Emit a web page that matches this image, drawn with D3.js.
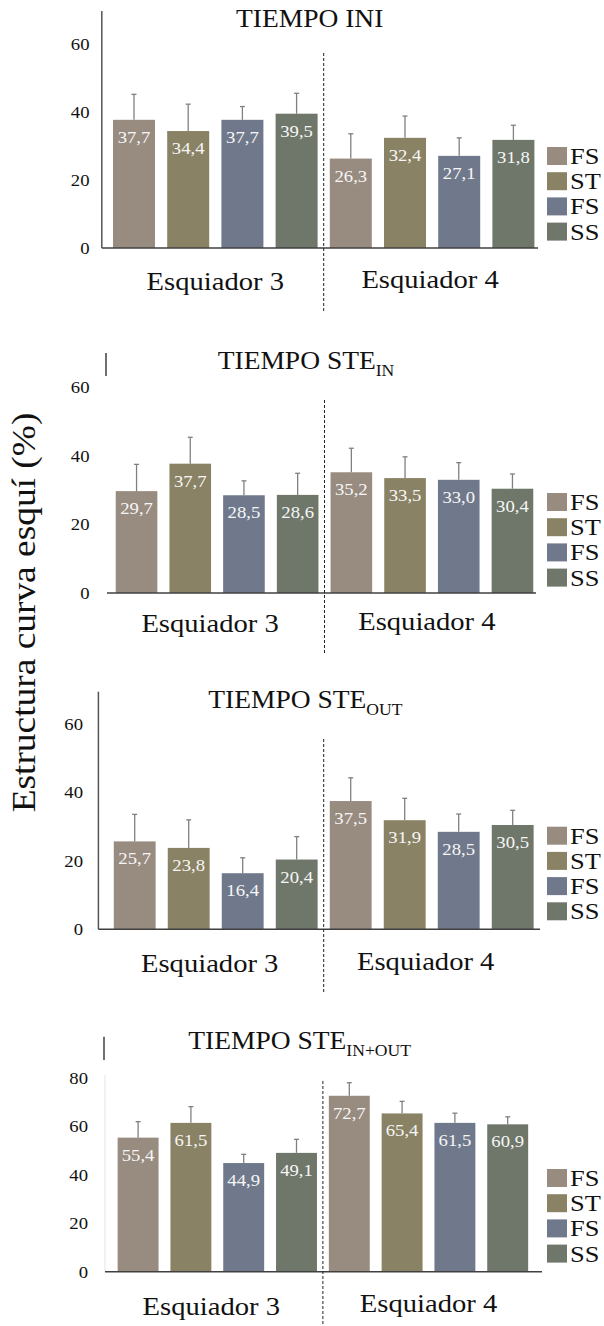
<!DOCTYPE html>
<html>
<head>
<meta charset="utf-8">
<script src="https://cdn.jsdelivr.net/npm/d3@7"></script>
<style>
  html, body { margin: 0; padding: 0; background: #fff; }
  svg { display: block; }
</style>
</head>
<body>
<svg id="chart" width="604" height="1326"></svg>
<script>
// ---- data ----
const groups = ["Esquiador 3", "Esquiador 4"];
const seriesIds = ["s1", "s2", "s3", "s4"];
const seriesLabels = ["FS", "ST", "FS", "SS"];
const yTicksShort = [0, 20, 40, 60];
const yTicksLong = [0, 20, 40, 60, 80];
const yAxisTitle = "Estructura curva esquí (%)";

const titleMain = ["TIEMPO INI", "TIEMPO STE", "TIEMPO STE", "TIEMPO STE"];
const titleSub = ["", "IN", "OUT", "IN+OUT"];

// mean (%) per skier and series, with the upper deviation
const iniValues = [[37.7, 34.4, 37.7, 39.5], [26.3, 32.4, 27.1, 31.8]];
const iniErrors = [[7.5, 7.9, 3.9, 6.0], [7.3, 6.4, 5.3, 4.3]];
const steInValues = [[29.7, 37.7, 28.5, 28.6], [35.2, 33.5, 33.0, 30.4]];
const steInErrors = [[7.8, 7.7, 4.2, 6.3], [7.0, 6.2, 5.0, 4.3]];
const steOutValues = [[25.7, 23.8, 16.4, 20.4], [37.5, 31.9, 28.5, 30.5]];
const steOutErrors = [[7.9, 8.2, 4.5, 6.7], [6.8, 6.4, 5.2, 4.3]];
const steInOutValues = [[55.4, 61.5, 44.9, 49.1], [72.7, 65.4, 61.5, 60.9]];
const steInOutErrors = [[6.6, 6.7, 3.6, 5.6], [5.4, 5.0, 4.0, 3.1]];

// ---- styling / layout ----
const FONT = "'Liberation Serif', 'Times New Roman', Times, serif";
const SX = 1.1; // slightly wide lettering
const color = d3.scaleOrdinal()
  .domain(seriesIds)
  .range(["#988b80", "#8a8264", "#70798b", "#6f766a"]);

const panels = [
  { values: iniValues, errors: iniErrors, ticks: yTicksShort, yMax: 70, base: 248, ppu: 3.40,
    xr: [106.9, 540.5], tickX: 89.5, axisLine: { x: 101.8, y1: 11, color: "#555" }, stub: null,
    baseX: [101.8, 538], dashY: [53, 312], titleX: 236, titleY: 26.7,
    groupY: [290, 288], groupDx: [0, -2], legendY: 147 },
  { values: steInValues, errors: steInErrors, ticks: yTicksShort, yMax: 70, base: 593, ppu: 3.43,
    xr: [109.7, 539.3], tickX: 89.5, axisLine: null, stub: { x: 106, y1: 353, y2: 376 },
    baseX: [107, 536], dashY: [400, 655], titleX: 217.7, titleY: 369.3,
    groupY: [631.7, 630], groupDx: [-7, -5], legendY: 493 },
  { values: steOutValues, errors: steOutErrors, ticks: yTicksShort, yMax: 70, base: 929.3, ppu: 3.42,
    xr: [107.7, 539.7], tickX: 83, axisLine: { x: 98.4, y1: 691.7, color: "#555" }, stub: null,
    baseX: [98.4, 540], dashY: [739, 992], titleX: 208.3, titleY: 708.3,
    groupY: [971.7, 970], groupDx: [-6, -6], legendY: 826.7 },
  { values: steInOutValues, errors: steInOutErrors, ticks: yTicksLong, yMax: 80, base: 1271.7, ppu: 2.42,
    xr: [111.7, 534.1], tickX: 88, axisLine: { x: 105, y1: 1075, color: "#eeeeee" }, stub: { x: 104, y1: 1036.7, y2: 1060 },
    baseX: [105, 542], dashY: [1081, 1326], titleX: 188.3, titleY: 1049.3,
    groupY: [1315, 1311.7], groupDx: [-6, 0], legendY: 1169 }
];

const fmt = v => d3.format(".1f")(v).replace(".", ",");
const svg = d3.select("#chart");

// shared y-axis title
svg.append("text")
  .attr("transform", `translate(35,612.5) rotate(-90) scale(${SX},1)`)
  .attr("text-anchor", "middle")
  .attr("font-family", FONT)
  .attr("font-size", 34)
  .attr("fill", "#111")
  .text(yAxisTitle);

panels.forEach((p, pi) => {
  const g = svg.append("g").attr("class", "panel");

  const y = d3.scaleLinear().domain([0, p.yMax]).range([p.base, p.base - p.yMax * p.ppu]);
  const x0 = d3.scaleBand().domain(groups).range(p.xr).paddingInner(0).paddingOuter(0);
  const x1 = d3.scaleBand().domain(seriesIds).range([0, x0.bandwidth()])
    .paddingInner(0.225).paddingOuter(0.1125);

  // y axis line / stub
  if (p.axisLine) {
    g.append("line")
      .attr("x1", p.axisLine.x).attr("x2", p.axisLine.x)
      .attr("y1", p.axisLine.y1).attr("y2", p.base)
      .attr("stroke", p.axisLine.color).attr("stroke-width", 1.5);
  }
  if (p.stub) {
    g.append("line")
      .attr("x1", p.stub.x).attr("x2", p.stub.x)
      .attr("y1", p.stub.y1).attr("y2", p.stub.y2)
      .attr("stroke", "#222").attr("stroke-width", 1.3);
  }

  // tick labels
  const axis = g.append("g")
    .attr("transform", `translate(${p.tickX},0)`)
    .call(d3.axisLeft(y).tickValues(p.ticks).tickSize(0).tickPadding(0).tickFormat(d3.format("d")));
  axis.select(".domain").remove();
  axis.selectAll("text")
    .attr("font-family", FONT)
    .attr("font-size", 17)
    .attr("fill", "#111")
    .attr("transform", `scale(${SX},1)`);

  // bars
  const rows = [];
  groups.forEach((grp, gi) => {
    seriesIds.forEach((s, si) => {
      rows.push({ grp, s, v: p.values[gi][si], e: p.errors[gi][si] });
    });
  });

  g.selectAll("rect.bar").data(rows).join("rect")
    .attr("class", "bar")
    .attr("x", d => x0(d.grp) + x1(d.s))
    .attr("width", x1.bandwidth())
    .attr("y", d => y(d.v))
    .attr("height", d => y(0) - y(d.v))
    .attr("fill", d => color(d.s));

  // upper error bars
  const eb = g.selectAll("g.err").data(rows).join("g").attr("class", "err")
    .attr("stroke", "#808080").attr("stroke-width", 1.3);
  eb.append("line")
    .attr("x1", d => x0(d.grp) + x1(d.s) + x1.bandwidth() / 2)
    .attr("x2", d => x0(d.grp) + x1(d.s) + x1.bandwidth() / 2)
    .attr("y1", d => y(d.v))
    .attr("y2", d => y(d.v + d.e));
  eb.append("line")
    .attr("x1", d => x0(d.grp) + x1(d.s) + x1.bandwidth() / 2 - 2.5)
    .attr("x2", d => x0(d.grp) + x1(d.s) + x1.bandwidth() / 2 + 2.5)
    .attr("y1", d => y(d.v + d.e))
    .attr("y2", d => y(d.v + d.e));

  // value labels inside the bars
  g.selectAll("text.val").data(rows).join("text")
    .attr("class", "val")
    .attr("transform", d => `translate(${x0(d.grp) + x1(d.s) + x1.bandwidth() / 2},${y(d.v) + 23}) scale(${SX},1)`)
    .attr("text-anchor", "middle")
    .attr("font-family", FONT)
    .attr("font-size", 17)
    .attr("fill", "#f6f6f6")
    .text(d => fmt(d.v));

  // baseline
  g.append("line")
    .attr("x1", p.baseX[0]).attr("x2", p.baseX[1])
    .attr("y1", y(0)).attr("y2", y(0))
    .attr("stroke", "#404040").attr("stroke-width", 1.6);

  // separator between skiers
  const sepX = x0(groups[1]);
  g.append("line")
    .attr("x1", sepX).attr("x2", sepX)
    .attr("y1", p.dashY[0]).attr("y2", p.dashY[1])
    .attr("stroke", "#222").attr("stroke-width", 1)
    .attr("stroke-dasharray", "3,2");

  // group labels
  groups.forEach((grp, gi) => {
    g.append("text")
      .attr("transform", `translate(${x0(grp) + x0.bandwidth() / 2 + p.groupDx[gi]},${p.groupY[gi]}) scale(${SX},1)`)
      .attr("text-anchor", "middle")
      .attr("font-family", FONT)
      .attr("font-size", 26)
      .attr("fill", "#111")
      .text(grp);
  });

  // title with optional subscript
  const t = g.append("text")
    .attr("transform", `translate(${p.titleX},${p.titleY}) scale(${SX},1)`)
    .attr("font-family", FONT)
    .attr("font-size", 25)
    .attr("fill", "#111");
  t.append("tspan").text(titleMain[pi]);
  if (titleSub[pi]) {
    t.append("tspan").attr("font-size", 16).attr("dy", 7).text(titleSub[pi]);
  }

  // legend
  const lg = g.append("g");
  seriesIds.forEach((s, si) => {
    const ly = p.legendY + si * 25.2;
    lg.append("rect")
      .attr("x", 547).attr("y", ly)
      .attr("width", 20).attr("height", 18)
      .attr("fill", color(s));
    lg.append("text")
      .attr("transform", `translate(570,${ly + 17}) scale(${SX},1)`)
      .attr("font-family", FONT)
      .attr("font-size", 24)
      .attr("fill", "#111")
      .text(seriesLabels[si]);
  });
});
</script>
</body>
</html>
